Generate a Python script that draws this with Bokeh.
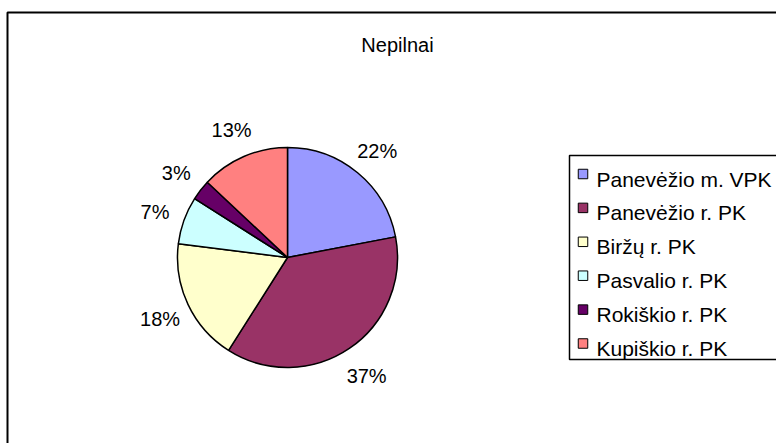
import math
from bokeh.plotting import figure
from bokeh.models import Range1d, ColumnDataSource
from bokeh.core.properties import value
from bokeh.embed import file_html
from bokeh.resources import INLINE

title = "Nepilnai"
categories = ["Panevėžio m. VPK", "Panevėžio r. PK", "Biržų r. PK",
              "Pasvalio r. PK", "Rokiškio r. PK", "Kupiškio r. PK"]
values = [22, 37, 18, 7, 3, 13]
colors = ["#9999FF", "#993366", "#FFFFCC", "#CCFFFF", "#660066", "#FF8080"]

W, H = 776, 443
FONT = value("Liberation Sans")

p = figure(width=W, height=H, output_backend="svg", toolbar_location=None,
           x_range=Range1d(0, W), y_range=Range1d(0, H), min_border=0)
p.axis.visible = False
p.grid.visible = False
p.outline_line_color = None
p.background_fill_color = "white"
p.border_fill_color = "white"

def Y(y):
    return H - y

# chart area border (extends beyond the window on right/bottom)
p.line(x=[7, 7, W + 20], y=[Y(H + 20), Y(12), Y(12)], line_color="#000000", line_width=2)

# title
p.text(x=[397], y=[Y(44.5)], text=[title], text_font=FONT, text_font_size="20px",
       text_align="center", text_baseline="alphabetic", text_color="black")

# pie
cx, cy, R = 287, Y(257), 110
total = float(sum(values))
starts, ends, mids = [], [], []
cum = 0.0
for v in values:
    f0 = cum / total
    cum += v
    f1 = cum / total
    starts.append(math.pi / 2 - f1 * 2 * math.pi)
    ends.append(math.pi / 2 - f0 * 2 * math.pi)
    mids.append(math.pi / 2 - (f0 + f1) / 2 * 2 * math.pi)

src = ColumnDataSource(dict(start=starts, end=ends, color=colors,
                            x=[cx] * len(values), y=[cy] * len(values)))
p.wedge(x="x", y="y", radius=R, start_angle="start", end_angle="end",
        fill_color="color", line_color="black", line_width=1.5, source=src)

# percent labels
LR = R * 1.28
lx = [cx + LR * math.cos(a) for a in mids]
ly = [cy + LR * math.sin(a) - 2 for a in mids]
labels = [f"{round(v / total * 100)}%" for v in values]
p.text(x=lx, y=ly, text=labels, text_font=FONT, text_font_size="20px",
       text_align="center", text_baseline="middle", text_color="black")

# legend box
p.line(x=[W + 20, 569, 569, W + 20], y=[Y(155), Y(155), Y(359), Y(359)],
       line_color="black", line_width=1.5)
row0, step = 178.5, 33.9
base = [Y(row0 + i * step) for i in range(len(categories))]
p.rect(x=[582.5] * len(categories), y=[b + 5 for b in base], width=9.5, height=9.5,
       fill_color=colors, line_color="black", line_width=1)
p.text(x=[596] * len(categories), y=base, text=categories, text_font=FONT,
       text_font_size="21px", text_align="left", text_baseline="alphabetic",
       text_color="black")

open("out.html", "w").write(file_html(p, INLINE))
